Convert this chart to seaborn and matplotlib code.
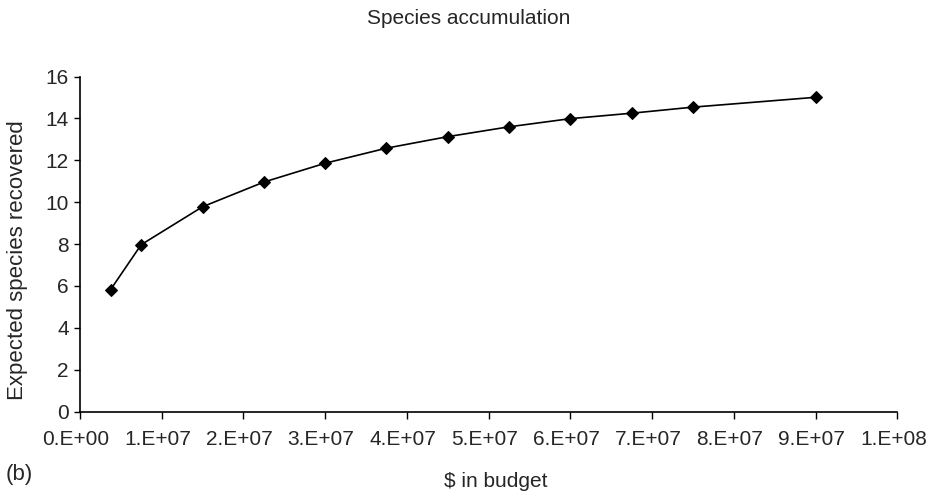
import pandas as pd
import matplotlib
matplotlib.use("Agg")
import matplotlib.pyplot as plt
import matplotlib.transforms as mtransforms
import seaborn as sns

# Values
budget = [3.75e6, 7.5e6, 1.5e7, 2.25e7, 3.0e7, 3.75e7, 4.5e7, 5.25e7, 6.0e7, 6.75e7, 7.5e7, 9.0e7]
species = [5.82, 7.97, 9.78, 10.96, 11.86, 12.58, 13.13, 13.6, 13.99, 14.25, 14.54, 15.01]

x_ticks = [0, 1e7, 2e7, 3e7, 4e7, 5e7, 6e7, 7e7, 8e7, 9e7, 1e8]
x_tick_labels = ["0.E+00", "1.E+07", "2.E+07", "3.E+07", "4.E+07", "5.E+07",
                 "6.E+07", "7.E+07", "8.E+07", "9.E+07", "1.E+08"]
y_ticks = [0, 2, 4, 6, 8, 10, 12, 14, 16]

df = pd.DataFrame({"budget": budget, "species": species})

sns.set_style("ticks")
plt.rcParams['font.family'] = ['Liberation Sans', 'DejaVu Sans']

fig = plt.figure(figsize=(9.29, 4.94), dpi=100)
ax = fig.add_axes([0.086, 0.167, 0.880, 0.678])

sns.lineplot(data=df, x="budget", y="species", ax=ax, color="black",
             marker="D", markersize=6.5, linewidth=1.2, markeredgecolor="black")

ax.set_xlim(0, 1e8)
ax.set_ylim(0, 16)
ax.set_xticks(x_ticks)
ax.set_xticklabels(x_tick_labels, fontsize=15)
ax.set_yticks(y_ticks)
ax.set_yticklabels([str(v) for v in y_ticks], fontsize=15)
ax.tick_params(axis='x', length=5, width=1, color='black', pad=8)
ax.tick_params(axis='y', length=4, width=1, color='black', pad=4)

# excel puts the x labels a touch left of the ticks
shift = mtransforms.ScaledTranslation(-4 / 100, 0, fig.dpi_scale_trans)
for lbl in ax.get_xticklabels():
    lbl.set_transform(lbl.get_transform() + shift)

for side in ['top', 'right']:
    ax.spines[side].set_visible(False)
for side in ['left', 'bottom']:
    ax.spines[side].set_linewidth(1.2)
    ax.spines[side].set_color('black')

ax.set_xlabel(r"\$ in budget", fontsize=15)
ax.xaxis.set_label_coords(0.509, -0.18)
ax.set_ylabel("Expected species recovered", fontsize=16)
ax.yaxis.set_label_coords(-0.064, 0.453)

fig.text(0.504, 0.962, "Species accumulation", ha='center', va='center', fontsize=15)
fig.text(0.006, 0.04, "(b)", ha='left', va='center', fontsize=16)

fig.savefig("out.png", dpi=100)
